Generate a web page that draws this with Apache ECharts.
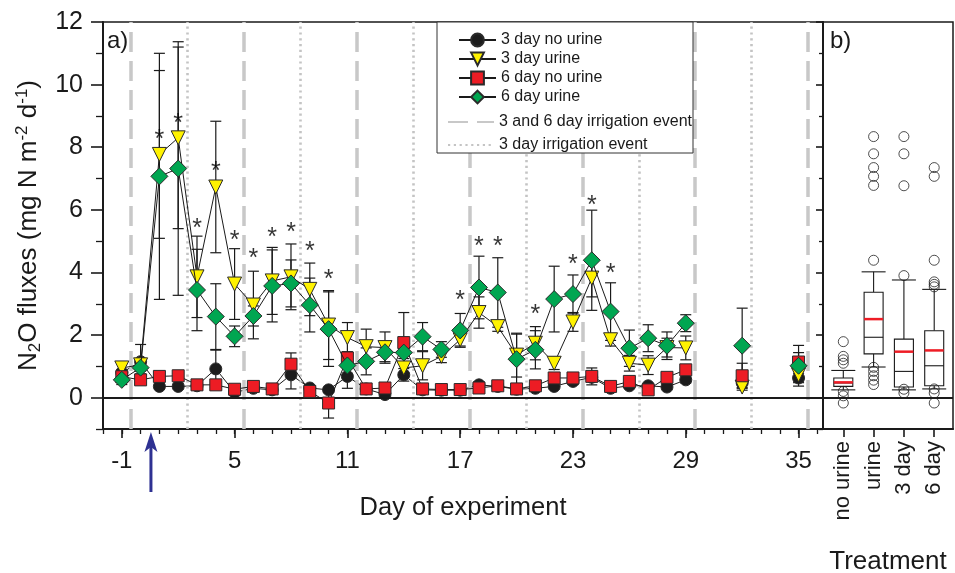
<!DOCTYPE html>
<html><head><meta charset="utf-8">
<script src="https://cdn.jsdelivr.net/npm/echarts@6/dist/echarts.min.js"></script>
<style>html,body{margin:0;padding:0;background:#fff}#c{width:955px;height:573px}</style>
</head><body><div id="c"></div>
<script>
// ---------- data ----------
const days = [-1,0,1,2,3,4,5,6,7,8,9,10,11,12,13,14,15,16,17,18,19,20,21,22,23,24,25,26,27,28,29,32,35];
const noUrine3   = [0.80,1.15,0.36,0.36,0.38,0.92,0.17,0.30,0.25,0.73,0.31,0.25,0.68,0.28,0.10,0.73,0.25,0.24,0.24,0.41,0.36,0.27,0.30,0.36,0.52,0.65,0.30,0.38,0.38,0.34,0.57,0.47,0.63];
const noUrine3Se = [0.10,0.55,0.08,0.08,0.08,0.60,0.08,0.08,0.08,0.45,0.08,0.08,0.38,0.08,0.08,0.20,0.08,0.08,0.08,0.10,0.08,0.08,0.08,0.08,0.10,0.10,0.08,0.08,0.08,0.08,0.10,0.15,0.15];
const urine3     = [0.95,1.05,7.77,8.30,3.86,6.73,3.63,2.96,3.73,3.86,3.46,2.32,1.92,1.63,1.60,0.95,1.02,1.32,1.85,2.72,2.27,1.36,1.74,1.10,2.42,3.82,1.85,1.10,1.04,1.60,1.59,0.34,0.73];
const urine3Se   = [0.20,0.20,2.68,2.90,1.30,2.10,1.13,1.08,1.07,1.05,0.84,1.10,0.48,0.56,0.50,0.30,0.45,0.20,0.20,0.50,0.15,0.70,0.53,0.20,0.30,0.60,0.20,0.25,0.30,0.30,0.38,0.10,0.20];
const noUrine6   = [0.67,0.57,0.68,0.70,0.41,0.41,0.27,0.36,0.28,1.07,0.20,-0.17,1.27,0.28,0.31,1.76,0.28,0.26,0.26,0.31,0.38,0.28,0.38,0.63,0.63,0.68,0.36,0.52,0.25,0.65,0.89,0.70,1.14];
const noUrine6Se = [0.15,0.15,0.08,0.08,0.08,0.08,0.08,0.08,0.08,0.36,0.08,0.48,0.20,0.08,0.08,0.96,0.08,0.08,0.08,0.08,0.08,0.08,0.08,0.08,0.08,0.27,0.08,0.08,0.08,0.08,0.10,0.40,0.30];
const urine6     = [0.57,0.96,7.07,7.32,3.44,2.59,1.96,2.61,3.57,3.65,2.96,2.19,1.03,1.16,1.45,1.44,1.95,1.54,2.15,3.52,3.36,1.23,1.53,3.15,3.31,4.39,2.75,1.58,1.90,1.66,2.38,1.66,1.02];
const urine6Se   = [0.15,0.20,3.93,4.05,1.30,1.05,0.33,0.32,1.15,0.75,0.86,1.19,0.30,0.43,0.30,0.30,0.45,0.25,0.54,1.00,1.11,0.80,0.61,1.05,0.61,1.60,0.92,0.58,0.43,0.44,0.27,1.20,0.65];

const starDays   = [1,2,3,4,5,6,7,8,9,10,17,18,19,21,23,24,25];
const starLevels = [8.38,8.89,5.54,7.36,5.16,4.59,5.25,5.41,4.81,3.92,3.25,4.97,4.97,2.80,4.39,6.27,4.11];

const irrigationBoth  = [-0.5,5.5,11.5,17.5,23.5,29.5,35.5];
const irrigationThree = [2.5,8.5,14.5,20.5,26.5,32.5];
const arrowDay = 0.55;

const xMajorTicks = [-1,5,11,17,23,29,35];
const yMajorTicks = [0,2,4,6,8,10,12];

const treatments = ['no urine','urine','3 day','6 day'];
const boxMin    = [0.25,0.98,0.25,0.28];
const boxQ1     = [0.36,1.40,0.34,0.38];
const boxMedian = [0.47,1.93,0.84,1.02];
const boxQ3     = [0.63,3.37,1.87,2.14];
const boxMax    = [0.87,4.02,3.76,3.46];
const boxMean   = [0.49,2.51,1.47,1.51];
const outliersNoUrine = [1.79,1.32,1.21,1.10,0.20,0.06,-0.17];
const outliersUrine   = [8.34,7.79,7.35,7.07,6.78,4.39,0.97,0.84,0.70,0.56,0.42];
const outliers3Day    = [8.34,7.79,6.77,3.90,0.27,0.15];
const outliers6Day    = [7.35,7.07,4.39,3.70,3.62,3.54,0.28,0.15,-0.17];

const seriesNames = ['3 day no urine','3 day urine','6 day no urine','6 day urine'];
const irrNames = ['3 and 6 day irrigation event','3 day irrigation event'];

// ---------- build ----------
const FONT = 'Liberation Sans, Arial, Helvetica, sans-serif';
const INK = '#1a1a1a';
const chart = echarts.init(document.getElementById('c'), null, {renderer:'canvas'});

function linePts(vals){
  const out = [];
  days.forEach((d,i)=>{
    if (i>0 && d - days[i-1] > 1) out.push([(d+days[i-1])/2, null]);
    out.push([d, vals[i]]);
  });
  return out;
}
function errSeries(vals, se, z){
  return {
    type:'custom', xAxisIndex:0, yAxisIndex:0, z, silent:true,
    data: days.map((d,i)=>[d, vals[i]-se[i], vals[i]+se[i]]),
    encode:{x:0, y:[1,2]},
    renderItem(params, api){
      const x = api.value(0);
      const lo = api.coord([x, api.value(1)]);
      const hi = api.coord([x, api.value(2)]);
      const w = 5.5, st = {stroke:INK, lineWidth:1.2};
      return {type:'group', children:[
        {type:'line', shape:{x1:lo[0],y1:lo[1],x2:hi[0],y2:hi[1]}, style:st},
        {type:'line', shape:{x1:lo[0]-w,y1:lo[1],x2:lo[0]+w,y2:lo[1]}, style:st},
        {type:'line', shape:{x1:hi[0]-w,y1:hi[1],x2:hi[0]+w,y2:hi[1]}, style:st}
      ]};
    }
  };
}
function mainSeries(name, vals, symbol, size, color, z, rotate){
  return {
    type:'line', name, xAxisIndex:0, yAxisIndex:0, z,
    data: linePts(vals), connectNulls:false,
    symbol, symbolSize:size, symbolRotate: rotate || 0, showAllSymbol:true,
    lineStyle:{color:INK, width:1},
    itemStyle:{color, borderColor:'#2a2a2a', borderWidth:1},
    emphasis:{disabled:true}, animation:false
  };
}
const irrStyleBoth  = {color:'#c8c8c8', width:3.5, type:[20,9]};
const irrStyleThree = {color:'#c4c4c4', width:2.6, type:[2.2,3.6]};

const axisFont = {fontFamily:FONT, color:INK};
const blackLine = {show:true, onZero:false, lineStyle:{color:INK, width:2}};
const noLine = {show:false, onZero:false};

const outlierPts = [];
[outliersNoUrine, outliersUrine, outliers3Day, outliers6Day].forEach((arr,i)=>arr.forEach(v=>outlierPts.push([i+1, v])));

const option = {
  backgroundColor:'#fff',
  animation:false,
  textStyle:{fontFamily:FONT},
  grid:[
    {left:103, right:132, top:22, bottom:144, show:true, borderColor:INK, borderWidth:1.5,
      containLabel:false, outerBoundsMode:'none'},
    {left:823, right:2, top:22, bottom:144, show:true, borderColor:INK, borderWidth:1.5,
      containLabel:false, outerBoundsMode:'none'}
  ],
  xAxis:[
    {gridIndex:0, type:'value', position:'bottom', min:-2, max:36.3,
      axisLine:blackLine, splitLine:{show:false},
      axisTick:{show:true, customValues:xMajorTicks, length:9, lineStyle:{color:INK, width:1.6}},
      axisLabel:{customValues:xMajorTicks, fontSize:24, margin:20, ...axisFont},
      name:'Day of experiment', nameLocation:'middle', nameGap:66,
      nameTextStyle:{fontSize:25.5, ...axisFont}},
    {gridIndex:0, type:'value', position:'bottom', min:-2, max:36.3,
      axisLine:noLine, splitLine:{show:false},
      axisTick:{show:true, customValues:Array.from({length:39},(_, k)=>k-2), length:5, lineStyle:{color:INK, width:1.3}},
      axisLabel:{show:false}},
    {gridIndex:1, type:'value', position:'bottom', min:0.33, max:4.62,
      axisLine:blackLine, splitLine:{show:false},
      axisTick:{show:true, customValues:[1,2,3,4], length:8, lineStyle:{color:INK, width:1.6}},
      axisLabel:{customValues:[1,2,3,4], formatter:v=>treatments[Math.round(v)-1], rotate:90, fontSize:22, margin:12, ...axisFont},
      name:'Treatment', nameLocation:'middle', nameGap:120,
      nameTextStyle:{fontSize:26, ...axisFont}}
  ],
  yAxis:[
    {gridIndex:0, type:'value', position:'left', min:-1, max:12,
      axisLine:blackLine, splitLine:{show:false},
      axisTick:{show:true, customValues:yMajorTicks, length:12, lineStyle:{color:INK, width:1.6}},
      axisLabel:{customValues:yMajorTicks, fontSize:25, margin:20, ...axisFont},
      name:'{n|N}{s|2}{n|O fluxes (mg N m}{p|-2}{n| d}{p|-1}{n|)}',
      nameLocation:'middle', nameGap:55, nameRotate:90,
      nameTextStyle:{...axisFont, fontSize:26, rich:{
        n:{fontSize:26, lineHeight:30, fontFamily:FONT, color:INK},
        s:{fontSize:17, lineHeight:13, verticalAlign:'bottom', fontFamily:FONT, color:INK},
        p:{fontSize:17, lineHeight:17, verticalAlign:'top', fontFamily:FONT, color:INK}
      }}},
    {gridIndex:0, type:'value', position:'left', min:-1, max:12,
      axisLine:noLine, splitLine:{show:false},
      axisTick:{show:true, customValues:[-1,1,3,5,7,9,11], length:7, lineStyle:{color:INK, width:1.3}},
      axisLabel:{show:false}},
    {gridIndex:1, type:'value', position:'left', min:-1, max:12,
      axisLine:blackLine, splitLine:{show:false},
      axisTick:{show:true, customValues:yMajorTicks, length:7, lineStyle:{color:INK, width:1.6}},
      axisLabel:{show:false}},
    {gridIndex:1, type:'value', position:'left', min:-1, max:12,
      axisLine:noLine, splitLine:{show:false},
      axisTick:{show:true, customValues:[-1,1,3,5,7,9,11], length:4, lineStyle:{color:INK, width:1.3}},
      axisLabel:{show:false}}
  ],
  legend:[
    {data:seriesNames, orient:'vertical', left:458, top:32, itemWidth:37, itemHeight:16, itemGap:3,
      padding:0, selectedMode:false, z:6, textStyle:{fontSize:16, color:INK, fontFamily:FONT}},
    {data:irrNames, orient:'vertical', left:447, top:114, itemWidth:46, itemHeight:16, itemGap:7,
      padding:0, selectedMode:false, z:6, textStyle:{fontSize:16, color:INK, fontFamily:FONT}}
  ],
  series:[
    {type:'line', name:irrNames[0], xAxisIndex:0, yAxisIndex:0, data:[], symbol:'none', z:1,
      lineStyle:irrStyleBoth, itemStyle:{color:'rgba(0,0,0,0)', borderWidth:0},
      markLine:{silent:true, symbol:['none','none'], label:{show:false}, lineStyle:irrStyleBoth,
        data:irrigationBoth.map(v=>({xAxis:v}))}},
    {type:'line', name:irrNames[1], xAxisIndex:0, yAxisIndex:0, data:[], symbol:'none', z:1,
      lineStyle:irrStyleThree, itemStyle:{color:'rgba(0,0,0,0)', borderWidth:0},
      markLine:{silent:true, symbol:['none','none'], label:{show:false}, lineStyle:irrStyleThree,
        data:irrigationThree.map(v=>({xAxis:v}))}},
    {type:'line', xAxisIndex:0, yAxisIndex:0, data:[], symbol:'none', z:2,
      markLine:{silent:true, symbol:['none','none'], label:{show:false},
        lineStyle:{color:INK, width:2, type:'solid'}, data:[{yAxis:0}]}},
    errSeries(noUrine3, noUrine3Se, 3),
    errSeries(urine3, urine3Se, 3),
    errSeries(noUrine6, noUrine6Se, 3),
    errSeries(urine6, urine6Se, 3),
    mainSeries(seriesNames[0], noUrine3, 'circle', 12, '#1c1c1c', 4),
    mainSeries(seriesNames[1], urine3, 'triangle', 14, '#fff200', 5, 180),
    mainSeries(seriesNames[2], noUrine6, 'rect', 12, '#ed1c24', 6),
    mainSeries(seriesNames[3], urine6, 'diamond', 17, '#00a651', 7),
    {type:'scatter', xAxisIndex:0, yAxisIndex:0, z:8, silent:true,
      data:starDays.map((d,i)=>[d, starLevels[i]]), symbolSize:1, itemStyle:{color:'rgba(0,0,0,0)'},
      label:{show:true, formatter:'*', position:'inside', offset:[0,5], fontSize:25, color:'#000', fontFamily:FONT}},
    // panel b
    {type:'line', xAxisIndex:2, yAxisIndex:2, data:[], symbol:'none', z:2,
      markLine:{silent:true, symbol:['none','none'], label:{show:false},
        lineStyle:{color:INK, width:2, type:'solid'}, data:[{yAxis:0}]}},
    {type:'custom', xAxisIndex:2, yAxisIndex:2, z:4, silent:true,
      data: treatments.map((t,i)=>[i+1, boxMin[i], boxQ1[i], boxMedian[i], boxQ3[i], boxMax[i], boxMean[i]]),
      encode:{x:0, y:[1,2,3,4,5,6]},
      renderItem(params, api){
        const x = api.value(0);
        const c = v => api.coord([x, v]);
        const pMin=c(api.value(1)), pQ1=c(api.value(2)), pMed=c(api.value(3)),
              pQ3=c(api.value(4)), pMax=c(api.value(5)), pMean=c(api.value(6));
        const X = pMin[0], bw = 9.5, cw = 12;
        const st = {stroke:INK, lineWidth:1.1};
        return {type:'group', children:[
          {type:'line', shape:{x1:X,y1:pMin[1],x2:X,y2:pQ1[1]}, style:st},
          {type:'line', shape:{x1:X,y1:pQ3[1],x2:X,y2:pMax[1]}, style:st},
          {type:'line', shape:{x1:X-cw,y1:pMin[1],x2:X+cw,y2:pMin[1]}, style:st},
          {type:'line', shape:{x1:X-cw,y1:pMax[1],x2:X+cw,y2:pMax[1]}, style:st},
          {type:'rect', shape:{x:X-bw, y:pQ3[1], width:2*bw, height:pQ1[1]-pQ3[1]}, style:{fill:'#fff', stroke:INK, lineWidth:1.1}},
          {type:'line', shape:{x1:X-bw,y1:pMed[1],x2:X+bw,y2:pMed[1]}, style:st},
          {type:'line', shape:{x1:X-bw,y1:pMean[1],x2:X+bw,y2:pMean[1]}, style:{stroke:'#ee1c25', lineWidth:2.5}}
        ]};
      }},
    {type:'scatter', xAxisIndex:2, yAxisIndex:2, z:5, silent:true,
      data:outlierPts, symbol:'circle', symbolSize:10,
      itemStyle:{color:'rgba(255,255,255,0)', borderColor:'#222', borderWidth:1}}
  ]
};
chart.setOption(option);

// annotations: legend frame, panel letters, urine application arrow below the day axis
const p = chart.convertToPixel({gridIndex:0}, [arrowDay, -1]);
const ax = p[0], ay = p[1];
chart.setOption({graphic:{elements:[
  {id:'legendBox', type:'rect', z:5, shape:{x:437, y:22, width:256, height:131},
    style:{fill:'#fff', stroke:'#333', lineWidth:1}},
  {id:'labA', type:'text', x:107, y:29, z:6, style:{text:'a)', fontSize:24, fontFamily:FONT, fill:INK}},
  {id:'labB', type:'text', x:830, y:29, z:6, style:{text:'b)', fontSize:24, fontFamily:FONT, fill:INK}},
  {id:'arrowShaft', type:'line', z:6, shape:{x1:ax, y1:ay+14, x2:ax, y2:ay+63}, style:{stroke:'#2e3192', lineWidth:3}},
  {id:'arrowHead', type:'polygon', z:6, shape:{points:[[ax, ay+3],[ax-6.5, ay+23],[ax, ay+18],[ax+6.5, ay+23]]}, style:{fill:'#2e3192'}}
]}});
</script>
</body></html>
